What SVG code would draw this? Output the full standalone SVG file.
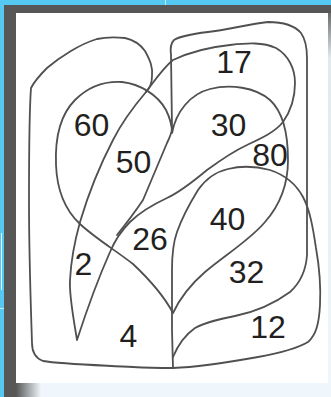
<svg xmlns="http://www.w3.org/2000/svg" width="331" height="397" viewBox="0 0 331 397">
<defs>
<style>
.c{fill:none;stroke:#505050;stroke-width:1.8;stroke-linejoin:round;stroke-linecap:round}
.t{font-family:"Liberation Sans",Arial,sans-serif;font-size:32px;fill:#231f20;text-anchor:middle}
</style>
<linearGradient id="gb" x1="0" y1="0" x2="1" y2="0">
<stop offset="0" stop-color="#575757"/><stop offset="1" stop-color="#EFF7FC"/>
</linearGradient>
<linearGradient id="gr" x1="0" y1="0" x2="0" y2="1">
<stop offset="0" stop-color="#6a6a6a"/><stop offset="0.12" stop-color="#dfe9ee"/><stop offset="1" stop-color="#EFF7FC"/>
</linearGradient>
</defs>
<g id="frame">
<rect width="331" height="397" fill="#EFF7FC"/>
<rect x="0" y="0" width="331" height="5" fill="#55C9F1"/>
<rect x="165" y="0" width="1" height="5" fill="#BDEBFA"/>
<rect x="0" y="0" width="4" height="397" fill="#55C9F1"/>
<rect x="1" y="233" width="1" height="57" fill="#E3F6FD"/>
<rect x="0" y="308" width="4" height="1" fill="#C8EEFB"/>
<rect x="4" y="5" width="327" height="8" fill="#575757"/>
<rect x="4" y="5" width="12" height="392" fill="#575757"/>
<rect x="16" y="383" width="25" height="14" fill="url(#gb)"/>
<rect x="328" y="13" width="3" height="370" fill="url(#gr)"/>
<rect x="16" y="13" width="312" height="370" fill="#ffffff"/>
</g>
<g id="curves">
<path id="outer-left" class="c" d="M146,92 C150,88 152,84 152,76 C153,67 150,60 145,51 C140,44 134,40 125,38 C115,37 106,37 97,39 C80,44 60,57 47,68 C40,75 34,82 31,88 C29,115 29,160 29,200 C29,260 31,310 32,343 C32,352 35,358 43,361 C60,364 95,365 133,367 C150,368 162,368 173,368"/>
<path id="set-40" class="c" d="M173,368 C200,367 230,362 258,357 C280,353 298,348 308,342 C316,335 319,324 320,305 C321,285 319,265 316,248 C313,228 310,210 303,197 C296,184 285,175 270,170 C255,166 240,166 228,169 C215,172 205,180 198,190 C190,203 182,218 177,232 C173,243 172,255 172,270 L172,330 L173,368"/>
<path id="set-tall" class="c" d="M117,235 C125,225 135,212 143,200 C150,183 160,160 167,143 C170,137 172,133 172,128 L171,55 C170,48 171,43 174,40 C180,36 192,34 208,32 C228,30 248,24 268,22 C283,22 295,26 301,33 C306,40 307,48 307,58 L307,255 C306,270 300,283 290,292 C275,303 255,312 235,316 C220,319 205,322 195,328 C185,335 178,345 173,357"/>
<path id="heart" class="c" d="M172,133 C176,112 190,94 210,89 C230,84 255,87 270,100 C283,112 288,135 288,160 C288,185 280,205 265,222 C250,240 225,255 205,272 C190,285 180,298 173,313 C165,298 150,280 133,264 C115,250 95,238 80,224 C65,210 57,190 56,165 C55,140 60,115 75,100 C88,87 105,81 122,82 C140,84 158,95 166,110 C170,118 172,126 172,133 Z"/>
<path id="loop-17" class="c" d="M77,340 C73,315 69,295 70,280 C71,260 75,240 80,222 C88,195 100,165 113,140 C122,122 135,105 146,92 C155,80 163,68 173,60 C190,52 210,47 230,45 C248,43 263,42 276,48 C288,55 295,68 295,83 C295,100 290,112 283,122 C275,132 262,138 247,145 C232,152 218,162 207,170 C195,180 180,192 167,198 C152,205 140,212 130,222 C122,230 115,240 110,252 C102,270 90,300 77,340 Z"/>
</g>
<g id="labels">
<text class="t" x="234" y="73">17</text>
<text class="t" x="91.5" y="136">60</text>
<text class="t" x="228.5" y="136">30</text>
<text class="t" x="133.5" y="173">50</text>
<text class="t" x="270" y="166">80</text>
<text class="t" x="227.5" y="230">40</text>
<text class="t" x="150" y="250">26</text>
<text class="t" x="83.5" y="275">2</text>
<text class="t" x="246.5" y="283">32</text>
<text class="t" x="268" y="338">12</text>
<text class="t" x="128.5" y="347">4</text>
</g>
</svg>
